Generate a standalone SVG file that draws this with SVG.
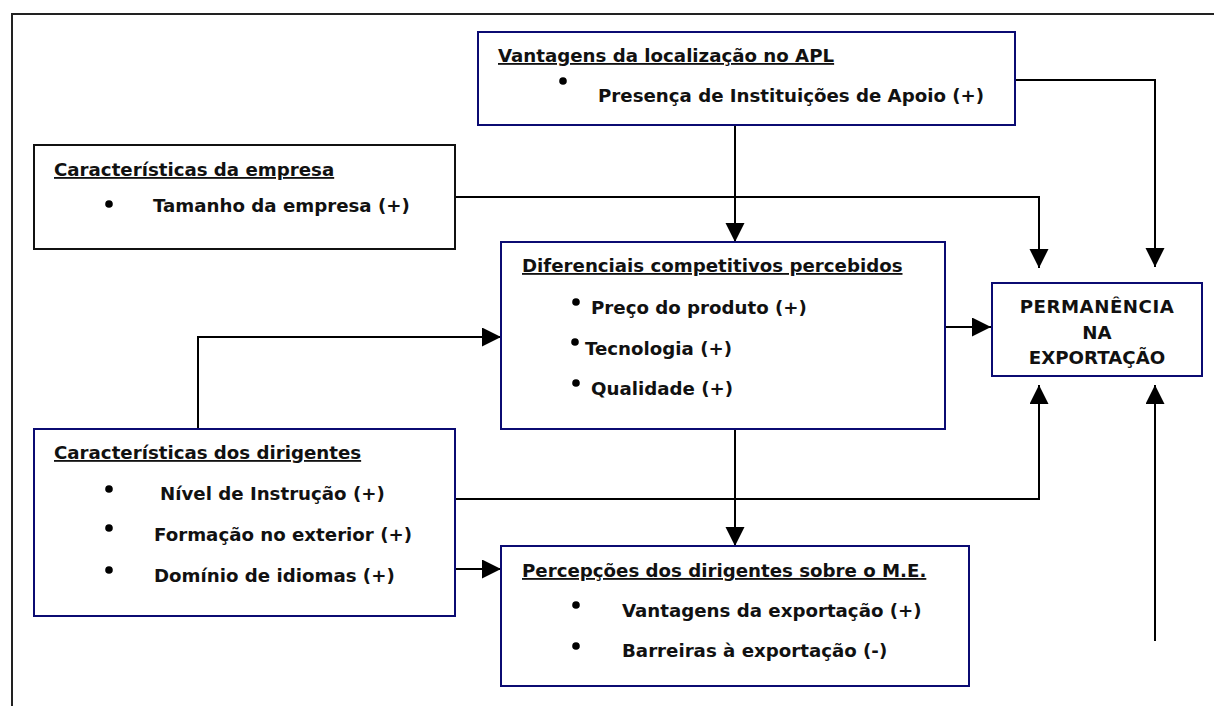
<svg xmlns="http://www.w3.org/2000/svg" width="1214" height="706" viewBox="0 0 1214 706">
  <defs>
    <marker id="arr" markerUnits="userSpaceOnUse" markerWidth="20" markerHeight="20" refX="19" refY="9.5" orient="auto">
      <path d="M0,0 L19,9.5 L0,19 Z" fill="#000"/>
    </marker>
  </defs>
  <style>
    .box { fill: #fff; stroke: #0b0b72; stroke-width: 2; }
    .boxk { fill: #fff; stroke: #111; stroke-width: 2; }
    .t { font-family: "DejaVu Sans", Verdana, sans-serif; font-weight: bold; font-size: 18.2px; fill: #111; }
    .u { text-decoration: underline; }
    .b { fill: #000; }
    .c { fill: none; stroke: #000; stroke-width: 2; }
  </style>
  <rect x="0" y="0" width="1214" height="706" fill="#fff"/>
  <g id="frame">
    <path d="M12,706 V14 H1214" fill="none" stroke="#222" stroke-width="2"/>
  </g>

  <g id="connectors">
    <path class="c" d="M735,125 V242" marker-end="url(#arr)"/>
    <path class="c" d="M1015,80 H1155 V267" marker-end="url(#arr)"/>
    <path class="c" d="M455,197 H1039 V268" marker-end="url(#arr)"/>
    <path class="c" d="M945,327 H991" marker-end="url(#arr)"/>
    <path class="c" d="M735,429 V546" marker-end="url(#arr)"/>
    <path class="c" d="M198,429 V337 H501" marker-end="url(#arr)"/>
    <path class="c" d="M455,499 H1039 V385" marker-end="url(#arr)"/>
    <path class="c" d="M1155,641 V385" marker-end="url(#arr)"/>
    <path class="c" d="M455,569 H501" marker-end="url(#arr)"/>
  </g>

  <g id="vantagens-apl">
    <rect class="box" x="478" y="32" width="537" height="93"/>
    <text class="t u" x="498" y="62">Vantagens da localização no APL</text>
    <circle class="b" cx="563" cy="81" r="3.8"/>
    <text class="t" x="598" y="102">Presença de Instituições de Apoio (+)</text>
  </g>

  <g id="caracteristicas-empresa">
    <rect class="boxk" x="34" y="145" width="421" height="104"/>
    <text class="t u" x="54" y="176">Características da empresa</text>
    <circle class="b" cx="109" cy="204" r="3.8"/>
    <text class="t" x="153" y="212">Tamanho da empresa (+)</text>
  </g>

  <g id="diferenciais">
    <rect class="box" x="501" y="242" width="444" height="187"/>
    <text class="t u" x="522" y="272">Diferenciais competitivos percebidos</text>
    <circle class="b" cx="576" cy="302" r="3.8"/>
    <text class="t" x="591" y="314">Preço do produto (+)</text>
    <circle class="b" cx="575" cy="342" r="3.8"/>
    <text class="t" x="585" y="355">Tecnologia (+)</text>
    <circle class="b" cx="576" cy="383" r="3.8"/>
    <text class="t" x="591" y="395">Qualidade (+)</text>
  </g>

  <g id="permanencia">
    <rect class="box" x="992" y="283" width="210" height="93"/>
    <text class="t" x="1097" y="313" text-anchor="middle" letter-spacing="0.5">PERMANÊNCIA</text>
    <text class="t" x="1097" y="339" text-anchor="middle">NA</text>
    <text class="t" x="1097" y="364" text-anchor="middle">EXPORTAÇÃO</text>
  </g>

  <g id="caracteristicas-dirigentes">
    <rect class="box" x="34" y="429" width="421" height="187"/>
    <text class="t u" x="54" y="459">Características dos dirigentes</text>
    <circle class="b" cx="109" cy="489" r="3.8"/>
    <text class="t" x="160" y="500">Nível de Instrução (+)</text>
    <circle class="b" cx="109" cy="528" r="3.8"/>
    <text class="t" x="154" y="541">Formação no exterior (+)</text>
    <circle class="b" cx="109" cy="570" r="3.8"/>
    <text class="t" x="154" y="582">Domínio de idiomas (+)</text>
  </g>

  <g id="percepcoes">
    <rect class="box" x="501" y="546" width="468" height="140"/>
    <text class="t u" x="522" y="577">Percepções dos dirigentes sobre o M.E.</text>
    <circle class="b" cx="576" cy="605" r="3.8"/>
    <text class="t" x="622" y="617">Vantagens da exportação (+)</text>
    <circle class="b" cx="576" cy="646" r="3.8"/>
    <text class="t" x="622" y="657">Barreiras à exportação (-)</text>
  </g>
</svg>
